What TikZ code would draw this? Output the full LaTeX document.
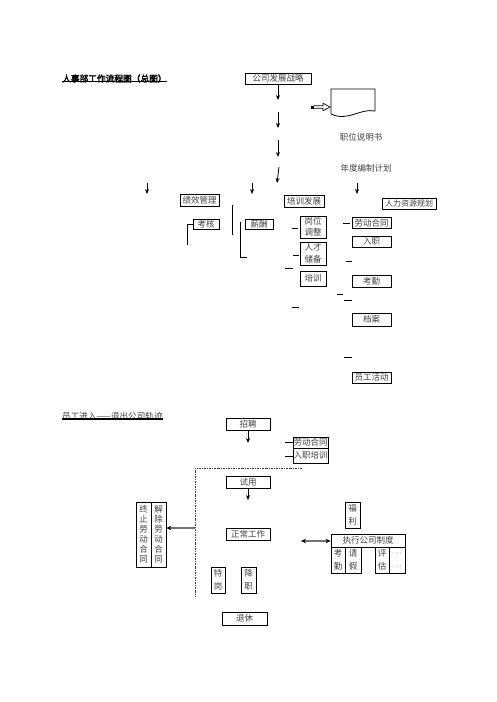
\documentclass[tikz,border=0pt]{standalone}
\usepackage{fontspec}
\newfontfamily\cjk{Noto Sans CJK SC}
\newfontfamily\cjkb[FakeBold=2.5]{Noto Sans CJK SC}
\usetikzlibrary{arrows.meta}
\begin{document}
\begin{tikzpicture}[x=1pt,y=-1pt,
 box/.style={draw=black, line width=0.8pt, inner sep=0pt, font=\cjk\fontsize{8.5}{10}\selectfont, text=black!75, align=center},
 vbox/.style={box, font=\cjk\fontsize{8.5}{#1}\selectfont},
 lbl/.style={inner sep=0pt, font=\cjk\fontsize{8.5}{10}\selectfont, text=black!75},
 arr/.style={line width=0.8pt, -{Stealth[length=5pt,width=4pt]}},
 seg/.style={line width=0.8pt},
 garr/.style={draw=black!55, line width=1.3pt, -{Stealth[length=5pt,width=4.5pt,color=black]}},
 gdarr/.style={draw=black!55, line width=1.3pt, {Stealth[length=5pt,width=4.5pt,color=black]}-{Stealth[length=5pt,width=4.5pt,color=black]}},
]
\useasboundingbox (0,0) rectangle (496,702);
\fill[white] (0,0) rectangle (496,702);

% ---------- titles ----------
\node[anchor=west, inner sep=0pt, font=\cjkb\fontsize{8.7}{10}\selectfont] (t1) at (62,78.5) {人事部工作流程图（总图）};
\draw[line width=1.5pt] (t1.south west) ++(0,-1.5) coordinate (u1a) -- (u1a -| t1.south east);
\node[anchor=west, inner sep=0pt, font=\cjk\fontsize{8.6}{10}\selectfont, text=black!75] (t2) at (62,416.5) {员工进入——退出公司轨迹};
\draw[line width=1.5pt] (t2.south west) ++(0,-1.8) coordinate (u2a) -- (u2a -| t2.south east);

% ---------- part 1 ----------
\node[box, minimum width=66pt, minimum height=11pt] (gsfz) at (278,78.5) {公司发展战略};
\coordinate (a1e) at (278,100);
\draw[arr] (gsfz.south) -- (a1e);
\coordinate (a2s) at (278,112); \coordinate (a2e) at (278,128);
\draw[arr] (a2s) -- (a2e);
\coordinate (a3s) at (278,140); \coordinate (a3e) at (278,157);
\draw[arr] (a3s) -- (a3e);
\coordinate (a4s) at (279,167); \coordinate (a4e) at (277,183);
\draw[arr] (a4s) -- (a4e);

% document shape
\draw[line width=0.8pt] (331,89) -- (375,89) -- (375,111) .. controls (360,108) and (348,122) .. (331,114) -- cycle;
\fill (310.5,105.5) rectangle (313.5,108.5);
\draw[line width=0.7pt] (313.5,105.8) -- (323,105.8) -- (323,103.3) -- (330,107) -- (323,110.7) -- (323,108.2) -- (313.5,108.2);

\node[lbl] (zwsms) at (361,137) {职位说明书};
\node[lbl] (ndbz) at (366,168) {年度编制计划};

\coordinate (b1s) at (147,183); \coordinate (b1e) at (147,194);
\draw[arr] (b1s) -- (b1e);
\coordinate (b2s) at (252,183); \coordinate (b2e) at (252,194);
\draw[arr] (b2s) -- (b2e);
\coordinate (b3s) at (357,183); \coordinate (b3e) at (357,194);
\draw[arr] (b3s) -- (b3e);

\node[box, minimum width=39pt, minimum height=12pt] (jxgl) at (199.5,200) {绩效管理};
\node[box, minimum width=40pt, minimum height=12pt] (pxfz) at (304,201) {培训发展};
\node[box, minimum width=54pt, minimum height=11pt, font=\cjk\fontsize{8}{10}\selectfont] (rlzy) at (409,203.5) {人力资源规划};

\node[box, minimum width=26pt, minimum height=10pt] (kh) at (206,224) {考核};
\node[box, minimum width=28pt, minimum height=10pt] (xc) at (259,224) {薪酬};
\coordinate (khb) at (187,245);
\draw[seg] (kh.west) -| (khb);
\coordinate (vl1) at (232,205); \coordinate (vl2) at (232,235);
\draw[seg] (vl1) -- (vl2);
\coordinate (xb1) at (240,222); \coordinate (xb2) at (247,257);
\draw[seg] (xb1) |- (xb2);

\node[vbox=11, minimum width=26pt, minimum height=22pt] (gwtz) at (313,227) {岗位\\调整};
\node[vbox=12, minimum width=26pt, minimum height=23pt] (rccb) at (313,253.5) {人才\\储备};
\node[box, minimum width=26pt, minimum height=15pt] (px) at (313,278.5) {培训};
\draw[seg] (292,228) -- (298,228);
\draw[seg] (293,255) -- (299,255);
\draw[seg] (285,268) -- (293,268);
\draw[seg] (292,307) -- (299,307);

\node[box, minimum width=39pt, minimum height=11pt] (ldht) at (371.5,223) {劳动合同};
\node[box, minimum width=39pt, minimum height=11pt] (rz) at (371.5,241.5) {入职};
\node[box, minimum width=39pt, minimum height=12pt] (kq) at (371.5,281) {考勤};
\node[box, minimum width=39pt, minimum height=13pt] (da) at (371.5,319.5) {档案};
\node[box, minimum width=39pt, minimum height=11pt] (yghd) at (371.5,377.5) {员工活动};
\draw[seg] (343,223) -- (350,223);
\draw[seg] (346,261) -- (352,261);
\draw[seg] (337,294) -- (343,294);
\draw[seg] (344,300) -- (352,300);
\draw[seg] (344,357) -- (352,357);

% ---------- part 2 ----------
\node[box, minimum width=44pt, minimum height=12pt] (zp) at (248,424) {招聘};
\coordinate (zpe) at (248,443);
\draw[arr] (zp.south) -- (zpe);
\node[box, minimum width=35pt, minimum height=11pt] (ldht2) at (310.5,442.5) {劳动合同};
\node[box, minimum width=35pt, minimum height=15pt] (rzpx) at (310.5,455.5) {入职培训};
\draw[seg] (285,442) -- (ldht2.west |- 0,442);
\draw[seg] (285,456) -- (rzpx.west |- 0,456);

\coordinate (dd1) at (302,468); \coordinate (dd2) at (195,468); \coordinate (dd3) at (195,597);
\draw[line width=0.8pt, black!75, dash pattern=on 2pt off 1pt on 0.8pt off 1pt] (dd1) -- (dd2) -- (dd3);

\node[box, minimum width=44pt, minimum height=12pt] (sy) at (248,482) {试用};
\coordinate (sye) at (248,500);
\draw[arr] (sy.south) -- (sye);
\node[box, minimum width=44pt, minimum height=12pt] (zcgz) at (248,534) {正常工作};
\node[vbox=13, minimum width=14pt, minimum height=26pt] (tg) at (218,580) {特\\岗};
\node[vbox=13, minimum width=15pt, minimum height=26pt] (jz) at (248.5,580) {降\\职};
\node[box, minimum width=45pt, minimum height=13pt] (tx) at (244.5,618.5) {退休};

\node[vbox=10, minimum width=15pt, minimum height=65pt] (zz) at (143.5,534.5) {终\\止\\劳\\动\\合\\同};
\node[vbox=10, minimum width=15pt, minimum height=65pt] (jc) at (158.5,534.5) {解\\除\\劳\\动\\合\\同};
\coordinate (ga1) at (195,528);
\draw[garr] (ga1) -- (jc.east |- ga1);

\node[vbox=13, minimum width=15pt, minimum height=26pt] (fl) at (352.5,515) {福\\利};
\node[box, minimum width=74pt, minimum height=13pt] (zxzd) at (368,540.5) {执行公司制度};
\node[vbox=13, minimum width=14pt, minimum height=26pt] (kq2) at (338,560) {考\\勤};
\node[vbox=13, minimum width=16pt, minimum height=26pt] (qj) at (353,560) {请\\假};
\node[vbox=13, minimum width=14pt, minimum height=26pt] (pg) at (382,560) {评\\估};
\node[vbox=13, minimum width=16pt, minimum height=26pt] (dots) at (397,560) {$\cdots$\\$\cdots$};
\coordinate (ga2) at (301,541);
\draw[gdarr] (ga2) -- (zxzd.west |- ga2);

\end{tikzpicture}
\end{document}
